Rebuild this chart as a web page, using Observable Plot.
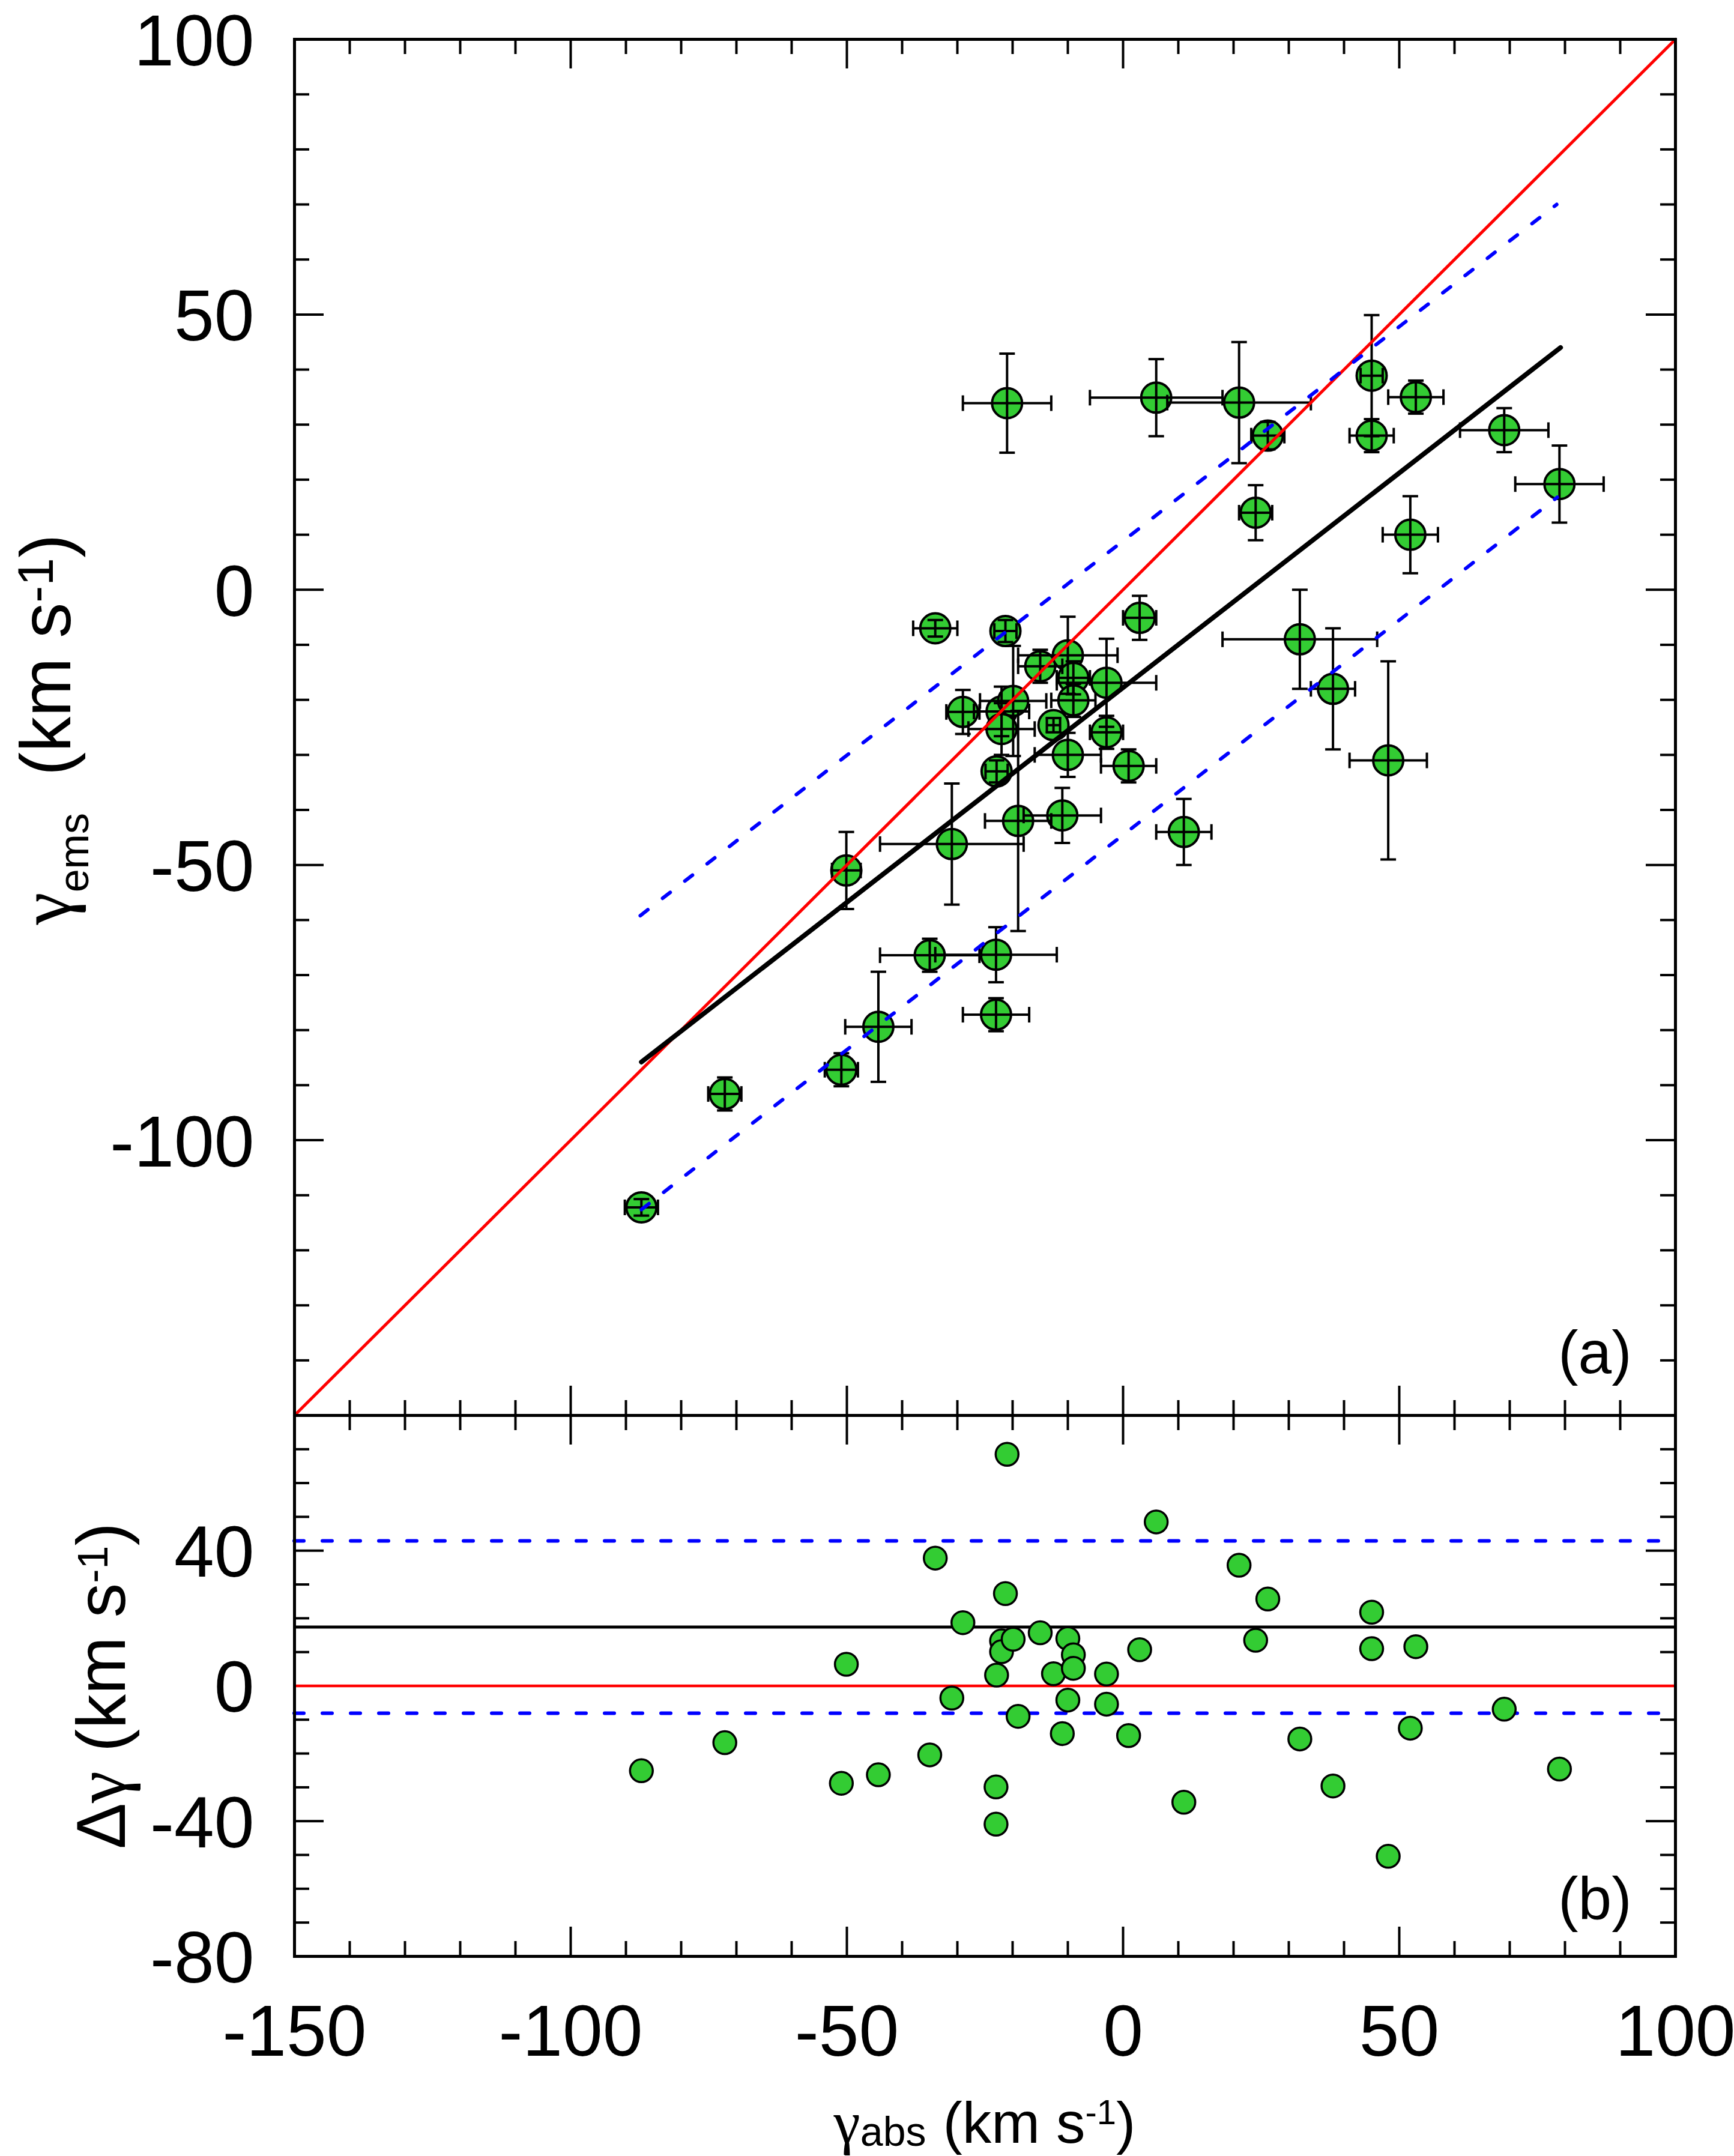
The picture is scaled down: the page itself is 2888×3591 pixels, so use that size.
<!DOCTYPE html>
<html>
<head>
<meta charset="utf-8">
<script src="https://cdn.jsdelivr.net/npm/d3@7"></script>
<script src="https://cdn.jsdelivr.net/npm/@observablehq/plot@0.6"></script>
<style>
  html, body { margin: 0; padding: 0; background: #fff; overflow: hidden; }
  #chart svg { display: block; }
</style>
</head>
<body>
<div id="chart"></div>
<script>
// ---------- data ----------
const gammaAbs = [-87.2, -72.1, -51.0, -50.1, -44.3, -35.0, -34.0, -31.0, -29.0, -23.0, -23.0, -22.9, -22.0, -22.0, -21.0, -21.3, -19.9, -19.0, -15.0, -12.6, -11.0, -10.0, -10.0, -9.0, -9.0, -3.0, -3.0, 1.0, 3.0, 6.0, 11.0, 21.0, 24.0, 26.2, 32.0, 38.0, 45.0, 45.0, 48.0, 52.0, 53.0, 69.0, 79.0];
const gammaEms = [-112.2, -91.6, -87.2, -51.0, -79.4, -66.4, -7.0, -46.2, -22.2, -66.3, -77.2, -33.0, -22.1, -25.3, 33.9, -7.5, -20.2, -42.0, -13.9, -24.6, -41.0, -11.9, -30.0, -16.0, -20.1, -16.9, -25.9, -32.0, -5.1, 34.9, -44.0, 34.0, 14.0, 28.0, -9.0, -18.0, 38.9, 28.0, -31.0, 10.0, 35.0, 29.0, 19.2];
const errAbs = [3, 3, 3, 2.6, 6, 9, 4, 13, 3, 11, 6, 2, 5, 6, 8, 2, 6, 6, 4, 1.2, 7, 9, 6, 3, 4, 9, 3, 5, 3, 12, 5, 13, 3, 3, 14, 4, 2, 4, 7, 5, 5, 8, 8];
const errEms = [1.5, 3, 3, 7, 10, 3, 1.5, 11, 4, 5, 3, 2, 4.5, 4.7, 9, 2, 10, 20, 3, 1.3, 5, 7, 4, 3, 3, 8, 3, 3, 4, 7, 6, 11, 5, 2.5, 9, 11, 11, 3, 18, 7, 3, 4, 7];
const deltaGamma = [-25.1, -16.8, -28.8, 6.4, -26.3, -20.4, 37.8, -3.6, 18.7, -29.9, -40.9, 3.2, 13.3, 10.1, 68.5, 27.3, 13.8, -9.0, 15.7, 3.6, -14.1, 14.0, -4.2, 9.2, 5.2, 3.5, -5.4, -14.7, 10.7, 48.5, -34.4, 35.7, 13.5, 25.7, -15.7, -29.6, 21.8, 11.0, -50.4, -12.5, 11.6, -6.9, -24.6];

// reference lines (panel a)
const identityAbs = [-150, 100];
const identityEms = [-150, 100];
const fitAbs = [-87.2, 79.2];
const fitEms = [-85.8, 44.0];
const upperAbs = [-87.4, 78.5];
const upperEms = [-59.2, 70.0];
const lowerAbs = [-87.2, 78.6];
const lowerEms = [-112.6, 16.8];

// reference lines (panel b)
const resZero = 0;
const resMean = 17.4;
const resUpper = 42.9;
const resLower = -8.1;

// ticks
const xTickLabels = [-150, -100, -50, 0, 50, 100];
const yTickLabelsTop = [-100, -50, 0, 50, 100];
const yTickLabelsBottom = [-80, -40, 0, 40];
const xMajorTicks = [-100, -50, 0, 50];
const yMajorTicksTop = [-100, -50, 0, 50];
const yMajorTicksBottom = [-40, 0, 40];
const xDomain = [-150, 100];
const yDomainTop = [-150, 100];
const yDomainBottom = [-80, 80];

// ---------- layout ----------
const FONT = "'Liberation Sans', Arial, Helvetica, sans-serif";
const GREEK = "'Liberation Serif', 'Times New Roman', serif";
const W = 2888, ML = 490, MR = 98;
const H1 = 2357, MT1 = 65;
const H2 = 1234, MB2 = 333;
const innerW = W - ML - MR;
const innerH1 = H1 - MT1;
const innerH2 = H2 - MB2;
const GREEN = "#33cc33";
const MAJOR = 49, MINOR = 25, TW = 4;

const minorOf = (domain, majors) =>
  d3.range(domain[0] + 10, domain[1], 10).filter(v => !majors.includes(v));
const xMinorTicks = minorOf(xDomain, xMajorTicks);
const yMinorTicksTop = minorOf(yDomainTop, yMajorTicksTop);
const yMinorTicksBottom = minorOf(yDomainBottom, yMajorTicksBottom);

const points = gammaAbs.map((a, i) => ({abs: a, ems: gammaEms[i], xe: errAbs[i], ye: errEms[i], d: deltaGamma[i]}));
const line2 = (xs, ys) => xs.map((x, i) => ({x, y: ys[i]}));

const capH = {draw(ctx) { ctx.moveTo(-13, 0); ctx.lineTo(13, 0); }};
const capV = {draw(ctx) { ctx.moveTo(0, -13); ctx.lineTo(0, 13); }};

function frameTicks(innerH, yMaj, yMin) {
  const marks = [];
  const s = {stroke: "black", strokeWidth: TW};
  for (const [vals, len] of [[xMajorTicks, MAJOR], [xMinorTicks, MINOR]]) {
    marks.push(Plot.tickX(vals, {x: d => d, insetTop: innerH - len, ...s}));
    marks.push(Plot.tickX(vals, {x: d => d, insetBottom: innerH - len, ...s}));
  }
  for (const [vals, len] of [[yMaj, MAJOR], [yMin, MINOR]]) {
    marks.push(Plot.tickY(vals, {y: d => d, insetRight: innerW - len, ...s}));
    marks.push(Plot.tickY(vals, {y: d => d, insetLeft: innerW - len, ...s}));
  }
  return marks;
}

const dash = {strokeDasharray: "16,31", strokeLinecap: "round"};

// ---------- panel (a) ----------
const panelA = Plot.plot({
  width: W, height: H1,
  marginLeft: ML, marginRight: MR, marginTop: MT1, marginBottom: 0,
  x: {domain: xDomain, axis: null},
  y: {domain: yDomainTop, axis: null},
  style: {background: "white", overflow: "visible"},
  marks: [
    ...frameTicks(innerH1, yMajorTicksTop, yMinorTicksTop),
    Plot.dot(points, {x: "abs", y: "ems", r: 25, fill: GREEN, stroke: "black", strokeWidth: 4}),
    Plot.ruleY(points, {y: "ems", x1: d => d.abs - d.xe, x2: d => d.abs + d.xe, stroke: "black", strokeWidth: 4}),
    Plot.ruleX(points, {x: "abs", y1: d => d.ems - d.ye, y2: d => d.ems + d.ye, stroke: "black", strokeWidth: 4}),
    Plot.dot(points, {x: d => d.abs - d.xe, y: "ems", symbol: capV, fill: "none", stroke: "black", strokeWidth: 4}),
    Plot.dot(points, {x: d => d.abs + d.xe, y: "ems", symbol: capV, fill: "none", stroke: "black", strokeWidth: 4}),
    Plot.dot(points, {x: "abs", y: d => d.ems - d.ye, symbol: capH, fill: "none", stroke: "black", strokeWidth: 4}),
    Plot.dot(points, {x: "abs", y: d => d.ems + d.ye, symbol: capH, fill: "none", stroke: "black", strokeWidth: 4}),
    Plot.line(line2(identityAbs, identityEms), {x: "x", y: "y", stroke: "#ff0000", strokeWidth: 5}),
    Plot.line(line2(upperAbs, upperEms), {x: "x", y: "y", stroke: "#0000ff", strokeWidth: 6, ...dash}),
    Plot.line(line2(lowerAbs, lowerEms), {x: "x", y: "y", stroke: "#0000ff", strokeWidth: 6, ...dash}),
    Plot.line(line2(fitAbs, fitEms), {x: "x", y: "y", stroke: "black", strokeWidth: 8, strokeLinecap: "round"}),
    Plot.frame({stroke: "black", strokeWidth: 5}),
    Plot.text(yTickLabelsTop, {y: d => d, text: d => String(d), frameAnchor: "left", dx: -67, dy: 5,
      textAnchor: "end", lineAnchor: "middle", fontSize: 120, fontFamily: FONT, fill: "black"}),
    Plot.text(["(a)"], {frameAnchor: "bottom-right", dx: -73, dy: -71, textAnchor: "end", lineAnchor: "bottom",
      fontSize: 100, fontFamily: FONT, fill: "black"})
  ]
});

// ---------- panel (b) ----------
const panelB = Plot.plot({
  width: W, height: H2,
  marginLeft: ML, marginRight: MR, marginTop: 0, marginBottom: MB2,
  x: {domain: xDomain, axis: null},
  y: {domain: yDomainBottom, axis: null},
  style: {background: "white", overflow: "visible"},
  marks: [
    ...frameTicks(innerH2, yMajorTicksBottom, yMinorTicksBottom),
    Plot.ruleY([resZero], {stroke: "#ff0000", strokeWidth: 4.5}),
    Plot.ruleY([resMean], {stroke: "black", strokeWidth: 5}),
    Plot.ruleY([resUpper, resLower], {stroke: "#0000ff", strokeWidth: 6, ...dash}),
    Plot.dot(points, {x: "abs", y: "d", r: 19, fill: GREEN, stroke: "black", strokeWidth: 3.5}),
    Plot.frame({stroke: "black", strokeWidth: 5}),
    Plot.text(yTickLabelsBottom, {y: d => d, text: d => String(d), frameAnchor: "left", dx: -67, dy: 5,
      textAnchor: "end", lineAnchor: "middle", fontSize: 120, fontFamily: FONT, fill: "black"}),
    Plot.text(xTickLabels, {x: d => d, text: d => String(d), frameAnchor: "bottom", dy: 127,
      textAnchor: "middle", lineAnchor: "middle", fontSize: 120, fontFamily: FONT, fill: "black"}),
    Plot.text(["(b)"], {frameAnchor: "bottom-right", dx: -73, dy: -62, textAnchor: "end", lineAnchor: "bottom",
      fontSize: 100, fontFamily: FONT, fill: "black"})
  ]
});

// ---------- rich-text axis titles ----------
function richText(svg, x, y, rotate, parts) {
  const t = d3.select(svg).append("text")
    .attr("transform", `translate(${x},${y})` + (rotate ? ` rotate(${rotate})` : ""))
    .attr("text-anchor", "middle")
    .attr("font-family", FONT)
    .attr("fill", "black");
  for (const p of parts) {
    const s = t.append("tspan").attr("font-size", p.size).text(p.text);
    if (p.font) s.attr("font-family", p.font);
    if (p.dy) s.attr("dy", p.dy);
    if (p.dx) s.attr("dx", p.dx);
  }
}

richText(panelA, 117, 1215, -90, [
  {text: "γ", size: 122, font: GREEK},
  {text: "ems", size: 70, dy: 30},
  {text: "(km\u00a0s", size: 118, dy: -30, dx: 62},
  {text: "-1", size: 84, dy: -29},
  {text: ")", size: 118, dy: 29}
]);

richText(panelB, 208, 2808 - H1, -90, [
  {text: "Δ", size: 115},
  {text: "γ", size: 120, font: GREEK},
  {text: "\u00a0(km\u00a0s", size: 115},
  {text: "-1", size: 70, dy: -29},
  {text: ")", size: 115, dy: 29}
]);

richText(panelB, ML + innerW / 2, 3569 - H1, 0, [
  {text: "γ", size: 100, font: GREEK},
  {text: "abs", size: 68, dy: 5},
  {text: "(km\u00a0s", size: 97, dy: -5, dx: 28},
  {text: "-1", size: 58, dy: -31},
  {text: ")", size: 97, dy: 31}
]);

const chart = document.getElementById("chart");
chart.appendChild(panelA);
chart.appendChild(panelB);
</script>
</body>
</html>
